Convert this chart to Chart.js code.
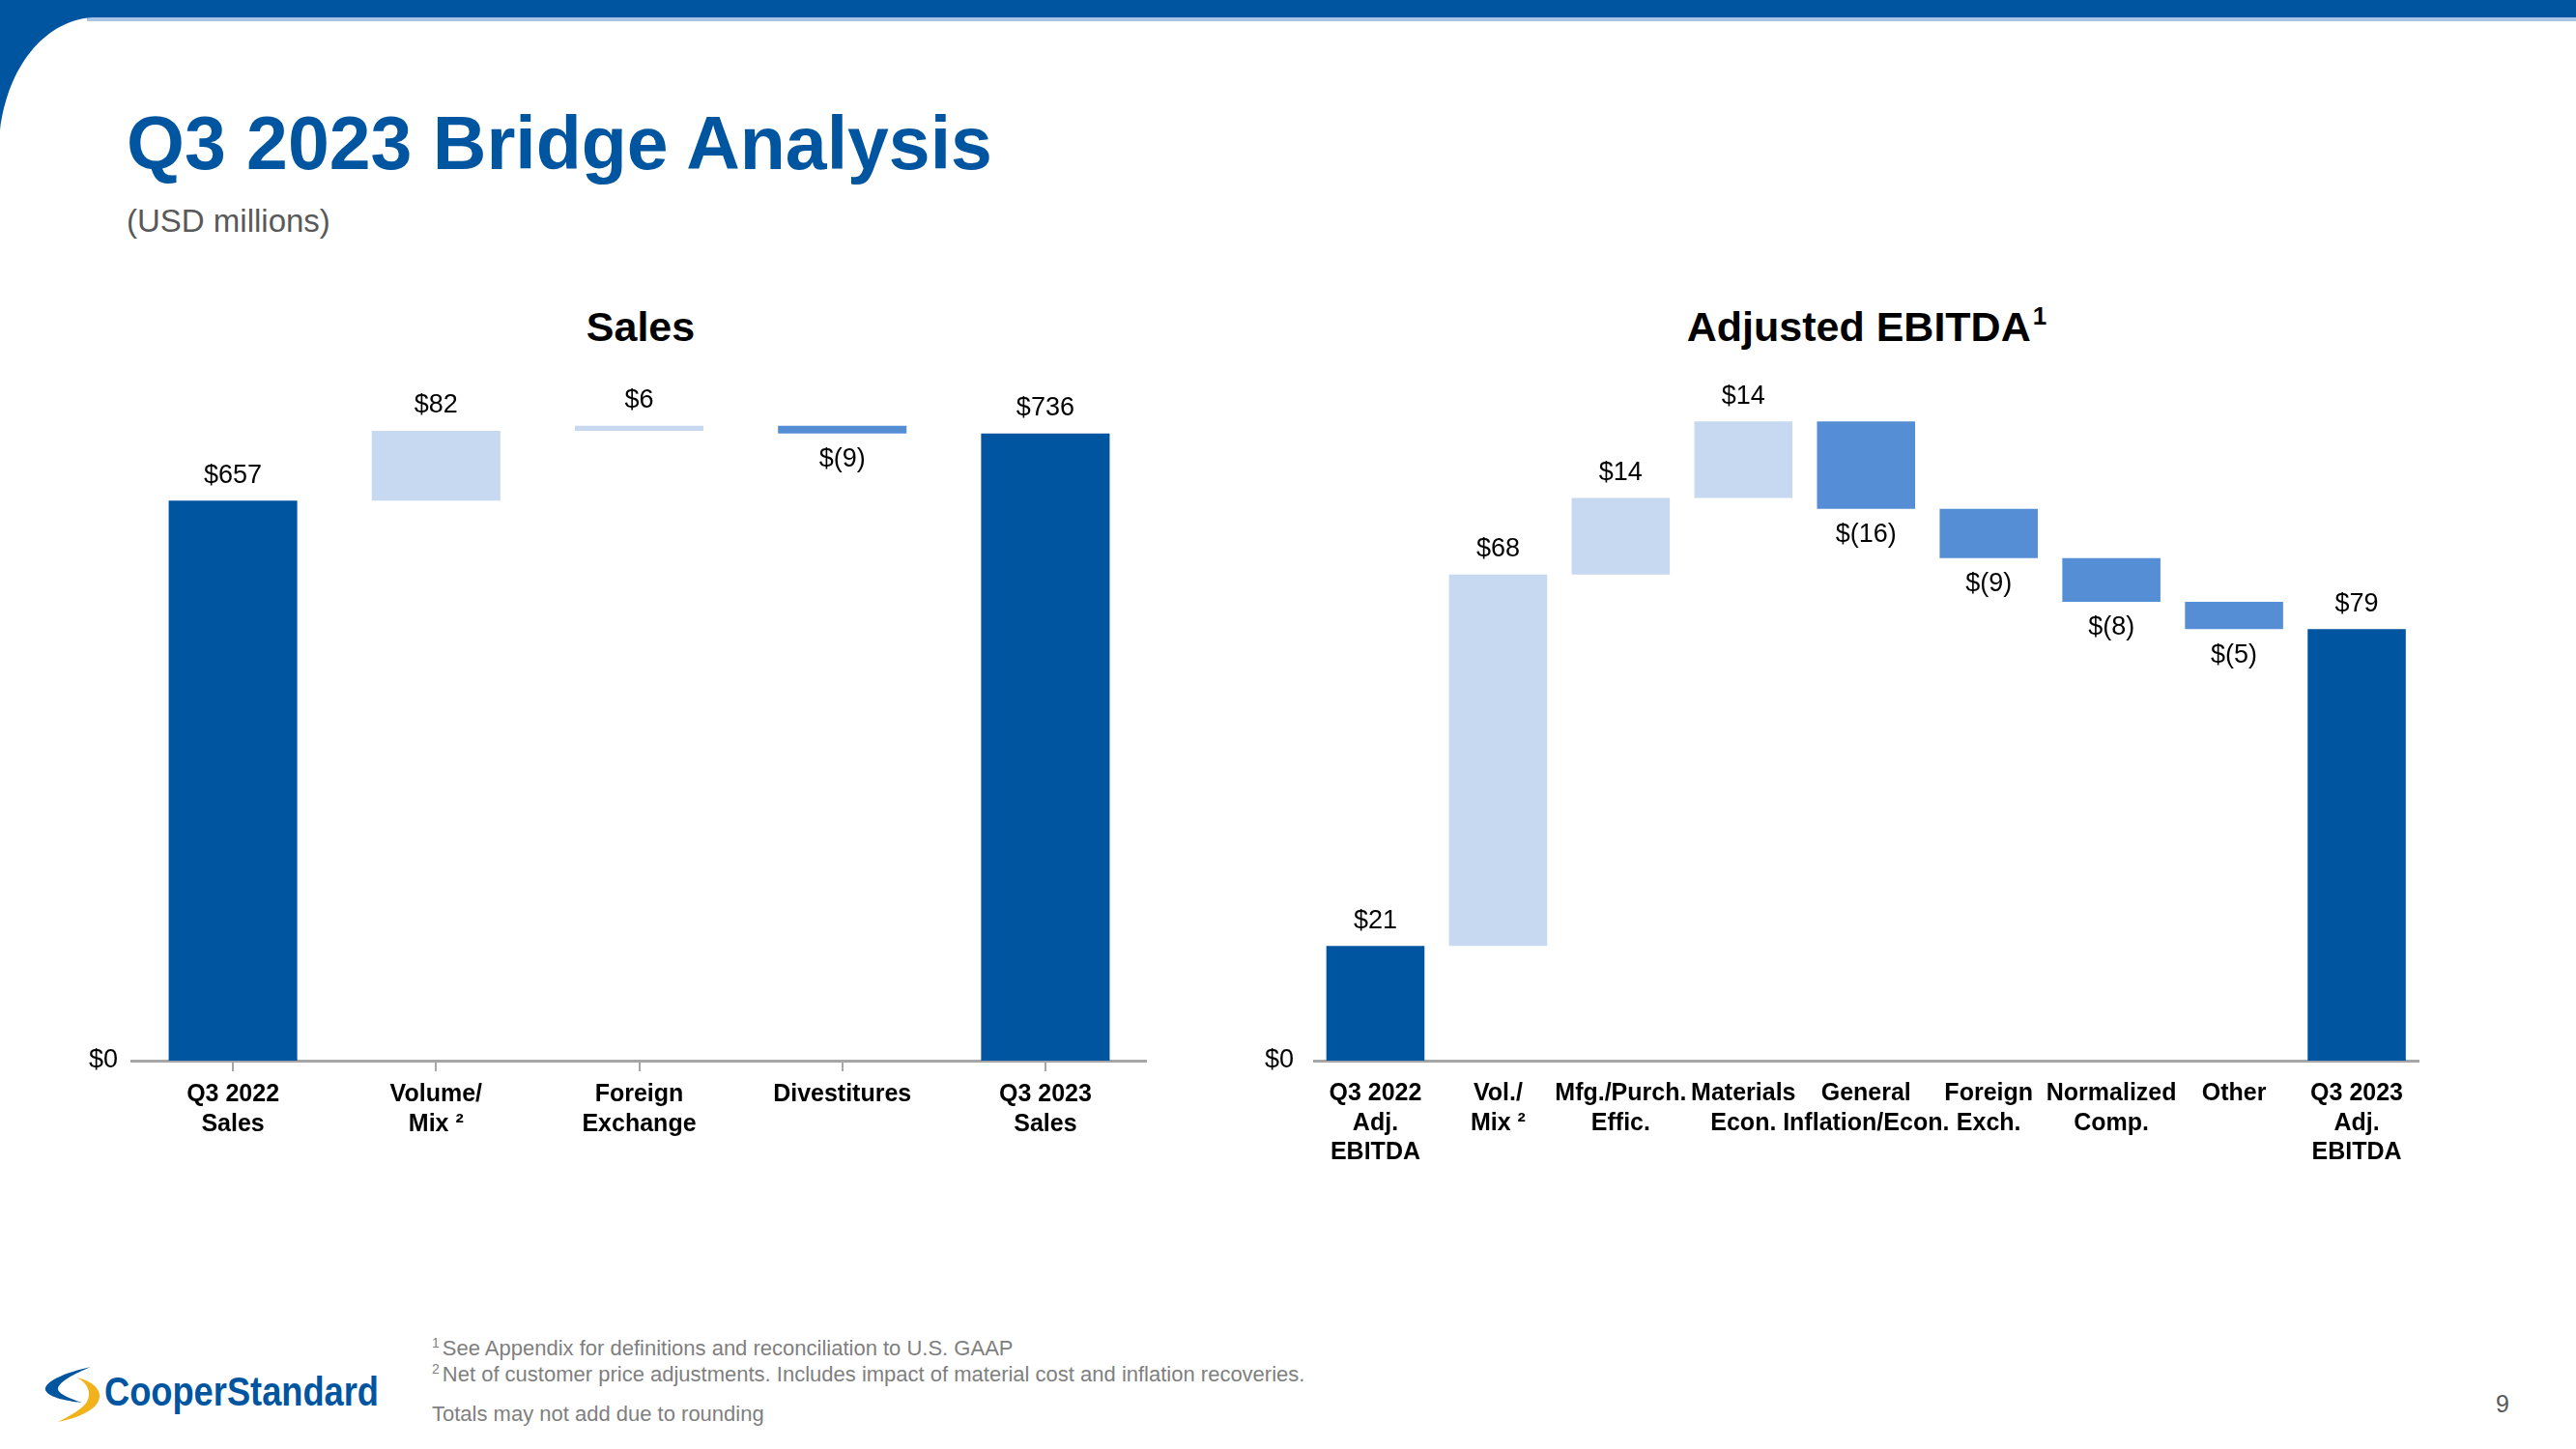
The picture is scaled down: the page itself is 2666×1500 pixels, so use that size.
<!DOCTYPE html>
<html>
<head>
<meta charset="utf-8">
<script src="https://cdn.jsdelivr.net/npm/chart.js@4.4.0/dist/chart.umd.min.js"></script>
<style>
  html, body { margin: 0; padding: 0; background: #fff; }
  body { width: 2666px; height: 1500px; position: relative; overflow: hidden;
         font-family: "Liberation Sans", Arial, sans-serif; }
  .abs { position: absolute; }
  #title { left: 131px; top: 110px; font-size: 77px; line-height: 77px; font-weight: bold; color: #0055a0; white-space: nowrap; }
  #subtitle { left: 131px; top: 212px; font-size: 33px; line-height: 33px; color: #595959; }
  .chartTitle { top: 317px; width: 700px; text-align: center; font-size: 43px; line-height: 43px; font-weight: bold; color: #000; }
  .chartTitle sup { font-size: 26px; vertical-align: 17px; line-height: 0; margin-left: 2px; }
  .foot { left: 447px; font-size: 22px; line-height: 22px; color: #7f7f7f; white-space: nowrap; }
  .foot sup { font-size: 14px; vertical-align: 8px; line-height: 0; margin-right: 3px; }
  #page { left: 2560px; top: 1441px; width: 60px; text-align: center; font-size: 25px; line-height: 25px; color: #595959; }
</style>
</head>
<body>
<svg class="abs" style="left:0;top:0" width="2666" height="140">
  <rect x="0" y="0" width="2666" height="18" fill="#0055a0"/>
  <rect x="90" y="18" width="2576" height="4" fill="#a9c4e4"/>
  <path d="M0,0 H130 V18 H95 C45,22 8,70 0,135 Z" fill="#0055a0"/>
</svg>

<div id="title" class="abs">Q3 2023 Bridge Analysis</div>
<div id="subtitle" class="abs">(USD millions)</div>

<div class="abs chartTitle" style="left:313px">Sales</div>
<div class="abs chartTitle" style="left:1582px">Adjusted EBITDA<sup>1</sup></div>

<!-- y軸ラベル分の上余白 (半分の高さ + padding) を見込んで配置 -->
<div class="abs" style="left:76px;top:362px;width:1111px;height:866px"><canvas id="salesChart"></canvas></div>
<div class="abs" style="left:1300px;top:355px;width:1206px;height:873px"><canvas id="ebitdaChart"></canvas></div>

<div class="abs foot" style="top:1385px"><sup>1</sup>See Appendix for definitions and reconciliation to U.S. GAAP</div>
<div class="abs foot" style="top:1412px"><sup>2</sup>Net of customer price adjustments. Includes impact of material cost and inflation recoveries.</div>
<div class="abs foot" style="top:1453px">Totals may not add due to rounding</div>
<div id="page" class="abs">9</div>

<svg class="abs" style="left:30px;top:1400px" width="400" height="90">
  <path d="M64,15 C36,21 15,31 17,39 C20,46 36,50 55,52 C40,47 29,42 30,37 C32,30 47,22 64,15 Z" fill="#0055a0"/>
  <path d="M50,26 C70,31 79,43 69,55 C60,64 45,69 30,72 C43,65 55,59 60,51 C65,42 61,32 50,26 Z" fill="#f2b21b"/>
  <text x="78" y="55" font-family="'Liberation Sans Narrow','Liberation Sans',Arial,sans-serif"
        font-size="42" font-weight="bold" fill="#0055a0" textLength="284" lengthAdjust="spacingAndGlyphs">CooperStandard</text>
</svg>

<script>
// --- データ ---
const salesLabels = [['Q3 2022', 'Sales'], ['Volume/', 'Mix ²'], ['Foreign', 'Exchange'], ['Divestitures'], ['Q3 2023', 'Sales']];
const salesValues = [657, 82, 6, -9, 736];
const salesTotals = [true, false, false, false, true];

const ebitdaLabels = [['Q3 2022', 'Adj.', 'EBITDA'], ['Vol./', 'Mix ²'], ['Mfg./Purch.', 'Effic.'], ['Materials', 'Econ.'],
  ['General', 'Inflation/Econ.'], ['Foreign', 'Exch.'], ['Normalized', 'Comp.'], ['Other'], ['Q3 2023', 'Adj.', 'EBITDA']];
const ebitdaValues = [21, 68, 14, 14, -16, -9, -8, -5, 79];
const ebitdaTotals = [true, false, false, false, false, false, false, false, true];

const DARK = '#0055a0';
const LIGHT = '#c6d9f0';
const MID = '#558ed5';
const FONT = '"Liberation Sans", Arial, sans-serif';

// 浮動バー [開始, 終了] を作る
function bridge(values, totals) {
  let run = 0;
  return values.map((v, i) => {
    if (totals[i]) { run = v; return [0, v]; }
    const start = run;
    run += v;
    return [start, run];
  });
}

function colours(values, totals) {
  return values.map((v, i) => totals[i] ? DARK : (v < 0 ? MID : LIGHT));
}

// 値ラベル
const valueLabels = {
  id: 'valueLabels',
  afterDatasetsDraw(chart, args, opts) {
    const ctx = chart.ctx;
    const meta = chart.getDatasetMeta(0);
    ctx.save();
    ctx.font = '27px ' + FONT;
    ctx.fillStyle = '#000';
    ctx.textAlign = 'center';
    ctx.textBaseline = 'middle';
    meta.data.forEach((bar, i) => {
      const v = opts.values[i];
      const top = Math.min(bar.y, bar.base);
      const bottom = Math.max(bar.y, bar.base);
      const text = v < 0 ? '$(' + (-v) + ')' : '$' + v;
      ctx.fillText(text, bar.x, v < 0 ? bottom + 27 : top - 26);
    });
    ctx.restore();
  }
};

function makeChart(id, labels, values, totals, yMax, barPct, ticks, yPad) {
  return new Chart(document.getElementById(id), {
    type: 'bar',
    data: {
      labels: labels,
      datasets: [{
        data: bridge(values, totals),
        backgroundColor: colours(values, totals),
        borderWidth: 0,
        categoryPercentage: 1,
        barPercentage: barPct
      }]
    },
    options: {
      responsive: true,
      maintainAspectRatio: false,
      animation: false,
      layout: { padding: 0 },
      plugins: {
        legend: { display: false },
        tooltip: { enabled: false },
        valueLabels: { values: values }
      },
      scales: {
        x: {
          offset: true,
          border: { display: true, color: '#a6a6a6', width: 3 },
          grid: {
            offset: false,
            drawOnChartArea: false,
            drawTicks: ticks,
            tickLength: 11,
            color: '#a6a6a6',
            lineWidth: 2
          },
          ticks: {
            autoSkip: false,
            maxRotation: 0,
            minRotation: 0,
            padding: ticks ? 9 : 19,
            color: '#000',
            font: { family: FONT, size: 25, weight: 'bold', lineHeight: 1.22 }
          },
          afterFit: scale => { scale.height = 130; }
        },
        y: {
          min: 0,
          max: yMax,
          border: { display: false },
          grid: { display: false, drawTicks: false },
          afterBuildTicks: axis => { axis.ticks = [{ value: 0 }]; },
          ticks: {
            padding: yPad,
            color: '#000',
            font: { family: FONT, size: 27 },
            callback: v => '$' + v
          },
          afterFit: scale => { scale.width = 60; }
        }
      }
    },
    plugins: [valueLabels]
  });
}

makeChart('salesChart', salesLabels, salesValues, salesTotals, 800, 0.633, true, 14);
makeChart('ebitdaChart', ebitdaLabels, ebitdaValues, ebitdaTotals, 124.8, 0.80, false, 21);
</script>
</body>
</html>
